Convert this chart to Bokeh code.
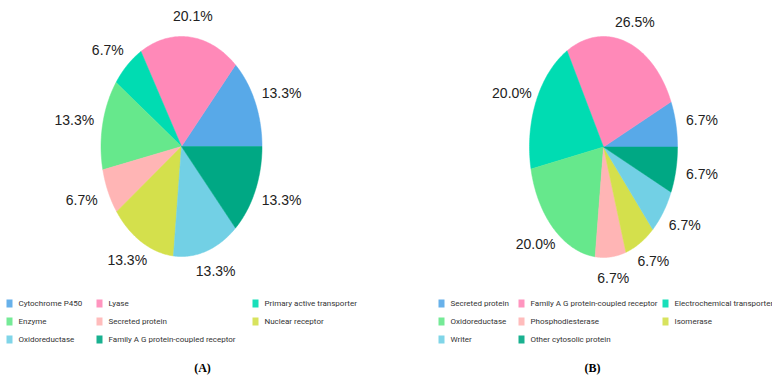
import numpy as np
from bokeh.plotting import figure
from bokeh.models import ColumnDataSource, Range1d
from bokeh.core.properties import value
from bokeh.embed import file_html
from bokeh.resources import INLINE

# ---- data ----
colors = ["#58a9e8", "#ff89b8", "#00dcb2", "#66e88c", "#ffb5b5", "#d4e04c", "#72d0e5", "#00a884"]

a_labels = ["Cytochrome P450", "Lyase", "Primary active transporter", "Enzyme",
            "Secreted protein", "Nuclear receptor", "Oxidoreductase",
            "Family A G protein-coupled receptor"]
a_values = [13.3, 20.1, 6.7, 13.3, 6.7, 13.3, 13.3, 13.3]

b_labels = ["Secreted protein", "Family A G protein-coupled receptor",
            "Electrochemical transporter", "Oxidoreductase", "Phosphodiesterase",
            "Isomerase", "Writer", "Other cytosolic protein"]
b_values = [6.7, 26.5, 20.0, 20.0, 6.7, 6.7, 6.7, 6.7]

W, H = 772, 378
p = figure(width=W, height=H, output_backend="svg", toolbar_location=None,
           x_range=Range1d(0, W), y_range=Range1d(H, 0), min_border=0)
p.axis.visible = False
p.grid.visible = False
p.outline_line_color = None
p.background_fill_color = "white"
p.border_fill_color = "white"

FONT = value("Liberation Sans")
LEGFONT = value("Roboto")


def draw_pie(vals, cx, cy, rx, ry):
    vals = np.asarray(vals, dtype=float)
    frac = vals / vals.sum()
    ends = np.cumsum(frac) * 2 * np.pi
    starts = ends - frac * 2 * np.pi
    xs, ys, lx, ly, txt = [], [], [], [], []
    for s, e, v in zip(starts, ends, vals):
        t = np.linspace(s, e, 80)
        xs.append(list(np.r_[cx, cx + rx * np.cos(t)]))
        ys.append(list(np.r_[cy, cy - ry * np.sin(t)]))
        m = (s + e) / 2
        lx.append(cx + 1.36 * rx * np.cos(m))
        ly.append(cy - 1.19 * ry * np.sin(m))
        txt.append(f"{v:.1f}%")
    src = ColumnDataSource(dict(xs=xs, ys=ys, c=colors[:len(vals)]))
    p.patches("xs", "ys", source=src, fill_color="c", line_color="c", line_width=0.5)
    p.text(x=lx, y=ly, text=txt, text_font=FONT, text_font_size="14px",
           text_color="#222222", text_align="center", text_baseline="middle")


def draw_legend(labels, col_x, y0):
    mx, my, tx, ty = [], [], [], []
    for i, lab in enumerate(labels):
        r, c = divmod(i, 3)
        mx.append(col_x[c])
        my.append(y0 + 18 * r)
        tx.append(col_x[c] + 9)
        ty.append(y0 + 18 * r)
    p.rect(x=mx, y=my, width=6, height=8, fill_color=colors[:len(labels)],
           line_color=None, fill_alpha=0.9)
    p.text(x=tx, y=ty, text=labels, text_font=LEGFONT, text_font_size="8px",
           text_color="#333333", text_align="left", text_baseline="middle")


draw_pie(a_values, 181, 146, 80.5, 110)
draw_pie(b_values, 603, 146.5, 74, 110.5)

draw_legend(a_labels, [9, 99, 255], 303)
draw_legend(b_labels, [441, 521, 665], 303)

p.text(x=[202, 592], y=[367, 367], text=["(A)", "(B)"], text_font=value("Liberation Serif"),
       text_font_size="12px", text_font_style="bold", text_color="#000000",
       text_align="center", text_baseline="middle")

open("out.html", "w").write(file_html(p, INLINE))
